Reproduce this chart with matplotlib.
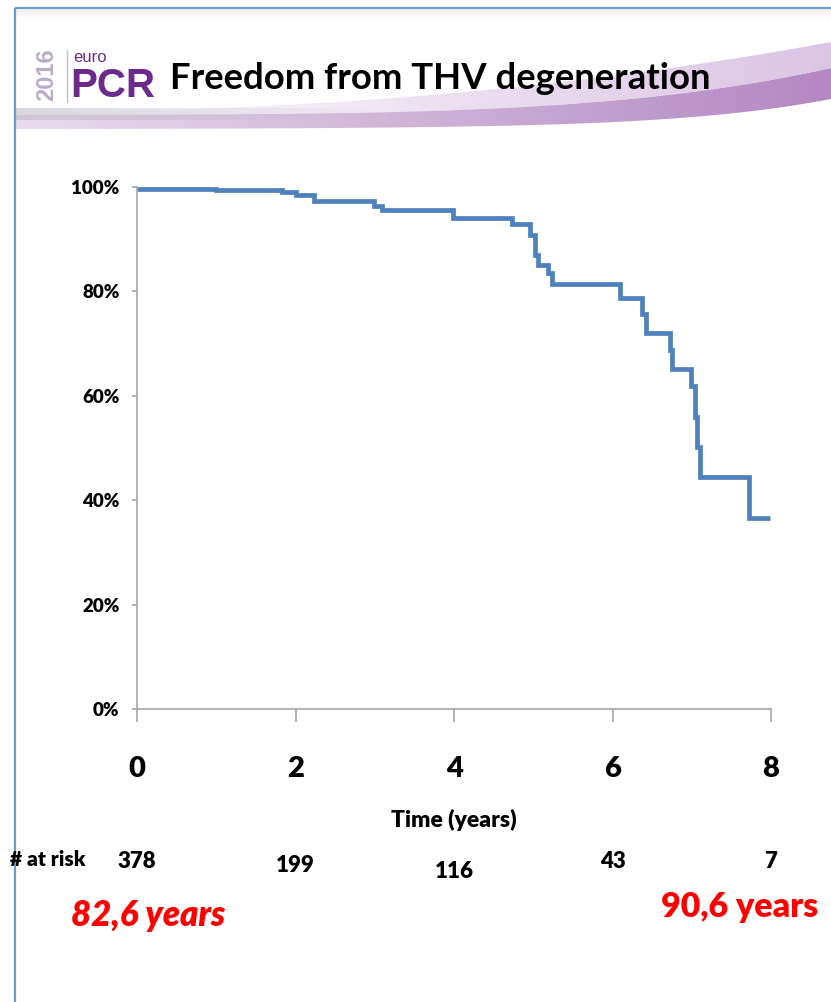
import numpy as np
import matplotlib
matplotlib.use("Agg")
import matplotlib.pyplot as plt
from matplotlib.patches import Polygon
from matplotlib.ticker import FixedLocator, FuncFormatter

# Kaplan-Meier estimate: freedom from THV degeneration (%)
times = [0.0, 1.00, 1.83, 2.00, 2.23, 2.99, 3.09, 3.99, 4.73, 4.96, 5.02, 5.06,
         5.19, 5.24, 6.10, 6.37, 6.42, 6.73, 6.75, 6.99, 7.04, 7.07, 7.10, 7.72]
survival = [99.7, 99.5, 99.0, 98.5, 97.3, 96.4, 95.6, 94.1, 92.9, 90.8, 87.0, 85.1,
            83.5, 81.4, 78.7, 75.7, 72.0, 68.8, 65.1, 61.8, 56.0, 50.2, 44.4, 36.6]
follow_up_end = 7.99

x_ticks = [0, 2, 4, 6, 8]
y_ticks = [0, 20, 40, 60, 80, 100]

# Patients at risk
risk_times = [0, 2, 4, 6, 8]
at_risk = [378, 199, 116, 43, 7]

age_start = "82,6 years"
age_end = "90,6 years"
title = "Freedom from THV degeneration"

FONT = ["Lato", "DejaVu Sans"]
LOGO_FONT = ["Liberation Sans", "DejaVu Sans"]
WEIGHT = "heavy"
LINE_BLUE = "#4F81BD"
PURPLE = "#6C2A8C"

W, H = 831, 1002
fig = plt.figure(figsize=(W / 100, H / 100), dpi=100)
fig.patch.set_facecolor("white")

# ---- slide decoration in pixel coordinates ----
deco = fig.add_axes([0, 0, 1, 1], zorder=0)
deco.set_xlim(0, W)
deco.set_ylim(H, 0)
deco.axis("off")

# slide frame
deco.plot([15, 15], [8, H], color="#6A9BD6", lw=1.6, solid_capstyle="butt")
deco.plot([15, W], [8, 8], color="#6A9BD6", lw=1.6, solid_capstyle="butt")
for i, a in enumerate(np.linspace(0.10, 0.0, 8)):
    deco.plot([16, W], [10 + i, 10 + i], color="#9A9A9A", alpha=a, lw=1)


def gradient_band(xs, top, bottom, color, a0, a1, z):
    """Fill a curved band with a left-to-right alpha gradient."""
    verts = list(zip(xs, top)) + list(zip(xs[::-1], bottom[::-1]))
    poly = Polygon(verts, closed=True, facecolor="none", edgecolor="none")
    deco.add_patch(poly)
    rgb = matplotlib.colors.to_rgb(color)
    grad = np.zeros((2, 256, 4))
    grad[..., :3] = rgb
    grad[..., 3] = np.linspace(a0, a1, 256)[None, :]
    im = deco.imshow(grad, extent=[xs[0], xs[-1], max(bottom), min(top)],
                     aspect="auto", zorder=z, interpolation="bilinear")
    im.set_clip_path(poly)


sx = np.linspace(16, W, 200)
u = (sx - 16) / (W - 16)
bottom_edge = 129 - 6 * u ** 2 - 24 * u ** 6
mid_edge = 115 - 2 * u - 45 * u ** 4
top_edge = 112 - 4 * u - 66 * u ** 2.2
gradient_band(sx, mid_edge, bottom_edge, "#A672B8", 0.25, 0.85, 1)
gradient_band(sx, top_edge, mid_edge, "#D2B6DD", 0.0, 0.8, 1)
gradient_band(sx[:90], 108 + 0 * sx[:90], 120 + 0 * sx[:90], "#B9B3BF", 0.55, 0.0, 1)

# logo
deco.text(47, 75, "2016", rotation=90, ha="center", va="center",
          fontsize=17, fontweight="bold", color="#BBAAC8", family=LOGO_FONT)
deco.plot([67, 67], [50, 102], color="#BFBFBF", lw=1)
deco.text(73, 57, "euro", ha="left", va="center", fontsize=12,
          color=PURPLE, family=LOGO_FONT)
deco.text(70, 86, "PCR", ha="left", va="center", fontsize=29, fontweight="bold",
          color=PURPLE, family=LOGO_FONT)
deco.text(170, 78, title, ha="left", va="center", fontsize=26.3, fontweight="bold",
          color="black", family=FONT, zorder=3)

# ---- survival curve ----
ax = fig.add_axes([137 / W, 1 - 709 / H, (771 - 137) / W, (709 - 187) / H], zorder=2)
ax.patch.set_alpha(0)
ax.step(times + [follow_up_end], survival + [survival[-1]], where="post",
        color=LINE_BLUE, lw=3.4, solid_joinstyle="miter", solid_capstyle="butt")
ax.set_xlim(0, 8)
ax.set_ylim(0, 100)

for s in ["top", "right"]:
    ax.spines[s].set_visible(False)
for s in ["left", "bottom"]:
    ax.spines[s].set_color("#A6A6A6")
    ax.spines[s].set_linewidth(1.2)

ax.xaxis.set_major_locator(FixedLocator(x_ticks))
ax.yaxis.set_major_locator(FixedLocator(y_ticks))
ax.yaxis.set_major_formatter(FuncFormatter(lambda v, p: f"{v:.0f}%"))
ax.tick_params(axis="x", direction="out", length=9, width=1.2, color="#A6A6A6", pad=25)
ax.tick_params(axis="y", direction="out", length=3.6, width=1.2, color="#A6A6A6", pad=9)
for lab in ax.get_xticklabels():
    lab.set_fontsize(21)
    lab.set_fontweight(WEIGHT)
    lab.set_family(FONT)
for lab in ax.get_yticklabels():
    lab.set_fontsize(13.5)
    lab.set_fontweight(WEIGHT)
    lab.set_family(FONT)


def ay(py):
    return (709 - py) / (709 - 187)


xt = ax.get_xaxis_transform()
ax.text(4, ay(820), "Time (years)", ha="center", va="center", fontsize=16.5,
        fontweight=WEIGHT, family=FONT, transform=xt, clip_on=False)

# numbers at risk
ax.text(-1.6, ay(860), "# at risk", ha="left", va="center", fontsize=15,
        fontweight=WEIGHT, family=FONT, transform=xt, clip_on=False)
risk_y = [861, 866, 872, 861, 861]
for t, n, py in zip(risk_times, at_risk, risk_y):
    ax.text(t, ay(py), str(n), ha="center", va="center", fontsize=16,
            fontweight=WEIGHT, family=FONT, transform=xt, clip_on=False)

# mean age at start and end of follow-up
ax.text(0.14, ay(915), age_start, ha="center", va="center", fontsize=25,
        fontweight=WEIGHT, style="italic", color="#FF0000", family=FONT,
        transform=xt, clip_on=False)
ax.text(7.6, ay(907), age_end, ha="center", va="center", fontsize=24.5,
        fontweight=WEIGHT, color="#FF0000", family=FONT,
        transform=xt, clip_on=False)

fig.savefig("out.png", dpi=100, facecolor="white")
